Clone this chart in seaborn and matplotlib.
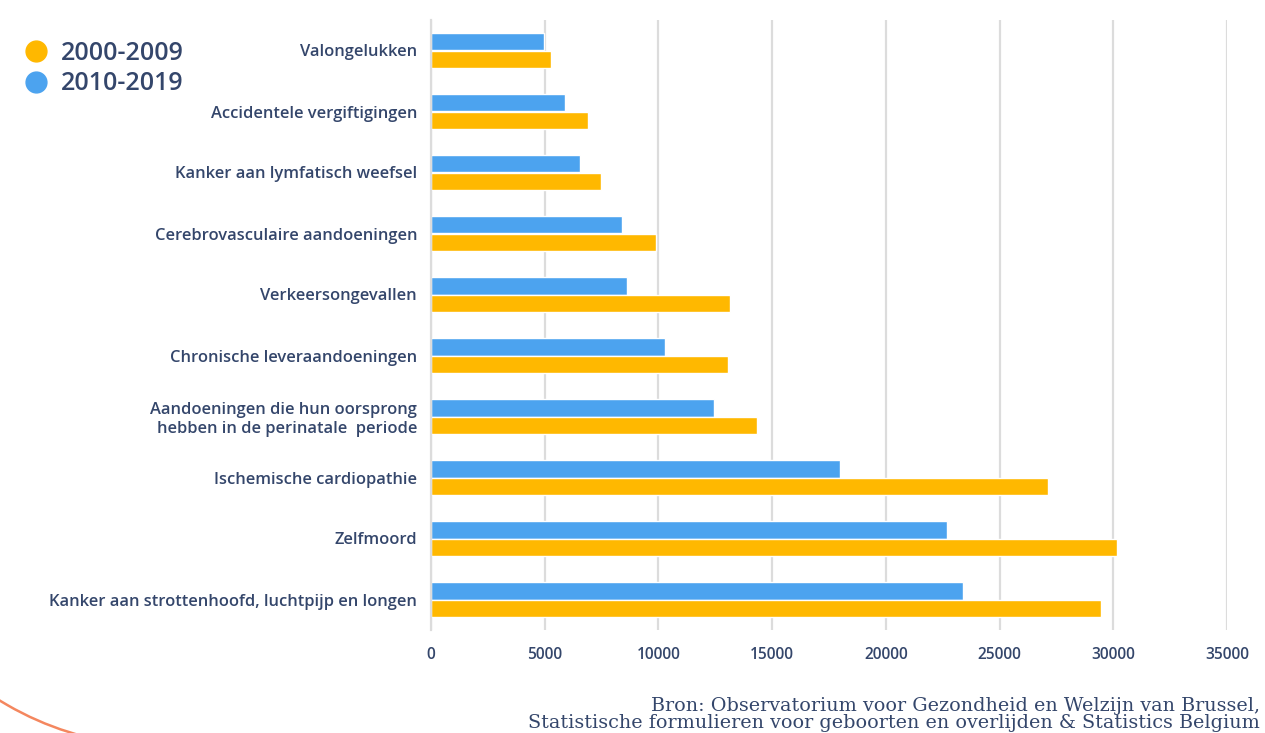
import matplotlib
matplotlib.use('Agg')
import matplotlib.pyplot as plt
from matplotlib.lines import Line2D
from matplotlib.patches import Arc
from matplotlib.transforms import IdentityTransform
import seaborn as sns
import pandas as pd
import numpy as np

causes = [
    'Valongelukken',
    'Accidentele vergiftigingen',
    'Kanker aan lymfatisch weefsel',
    'Cerebrovasculaire aandoeningen',
    'Verkeersongevallen',
    'Chronische leveraandoeningen',
    'Aandoeningen die hun oorsprong\nhebben in de perinatale  periode',
    'Ischemische cardiopathie',
    'Zelfmoord',
    'Kanker aan strottenhoofd, luchtpijp en longen',
]
values_2000_2009 = [5260, 6920, 7460, 9880, 13150, 13080, 14320, 27120, 30170, 29480]
values_2010_2019 = [4950, 5890, 6540, 8390, 8640, 10280, 12460, 17990, 22680, 23380]
periods = ['2000-2009', '2010-2019']
xticks = [0, 5000, 10000, 15000, 20000, 25000, 30000, 35000]

ORANGE = '#FFB800'
BLUE = '#4CA3EF'
NAVY = '#34466B'
GRID = '#DCDCDC'

df = pd.DataFrame({
    'cause': causes * 2,
    'value': values_2000_2009 + values_2010_2019,
    'period': [periods[0]] * len(causes) + [periods[1]] * len(causes),
})

sns.set_style('white')
plt.rcParams['font.family'] = ['Open Sans', 'DejaVu Sans']

fig = plt.figure(figsize=(12.65, 7.33), dpi=100)
ax = fig.add_axes([431 / 1265, 1 - 630 / 733, (1227 - 431) / 1265, 610 / 733])

sns.barplot(data=df, y='cause', x='value', hue='period', orient='y',
            hue_order=['2010-2019', '2000-2009'],
            palette={'2000-2009': ORANGE, '2010-2019': BLUE},
            width=0.56, gap=0, saturation=1, ax=ax, legend=False)

ax.set_xlim(0, 35000)
ax.set_ylim(len(causes) - 0.5, -0.5)
ax.set_xticks(xticks)
ax.set_xticklabels([str(t) for t in xticks])
ax.xaxis.grid(True, color=GRID, linewidth=1.6)
ax.set_axisbelow(True)
ax.set_xlabel('')
ax.set_ylabel('')

for side in ['top', 'right', 'bottom']:
    ax.spines[side].set_visible(False)
ax.spines['left'].set_color(GRID)
ax.spines['left'].set_linewidth(1.6)

ax.set_yticks(np.arange(len(causes)))
ax.set_yticklabels(causes, ha='right', multialignment='right', fontweight='semibold')
ax.set_yticks(np.arange(len(causes) + 1) - 0.5, minor=True)
ax.tick_params(axis='y', which='major', length=0, pad=10, labelsize=11.9, labelcolor=NAVY)
ax.tick_params(axis='y', which='minor', length=5, width=1.6, color=GRID)
ax.tick_params(axis='x', length=0, pad=12, labelsize=11.2, labelcolor=NAVY)
for lbl in ax.get_xticklabels():
    lbl.set_fontweight('semibold')

# legend with round markers
handles = [Line2D([], [], marker='o', linestyle='', markersize=15, color=ORANGE),
           Line2D([], [], marker='o', linestyle='', markersize=15, color=BLUE)]
fig.legend(handles, periods, loc='upper left', bbox_to_anchor=(0.0, 0.975),
           frameon=False, prop={'size': 18, 'weight': 'semibold'}, labelcolor=NAVY,
           handletextpad=0.45, labelspacing=0.22, handlelength=1.1)

fig.text(0.996, 0.001, 'Bron: Observatorium voor Gezondheid en Welzijn van Brussel,\n'
         'Statistische formulieren voor geboorten en overlijden & Statistics Belgium',
         ha='right', va='bottom', fontsize=13.8, color=NAVY, family='DejaVu Serif',
         multialignment='right', linespacing=0.98)

# decorative arc bottom-left (pixel coordinates)
arc = Arc((160, 292), 610, 610, theta1=215, theta2=265,
          transform=IdentityTransform(), color='#F4875F', linewidth=1.8)
fig.add_artist(arc)

plt.savefig('out.png', dpi=100)
